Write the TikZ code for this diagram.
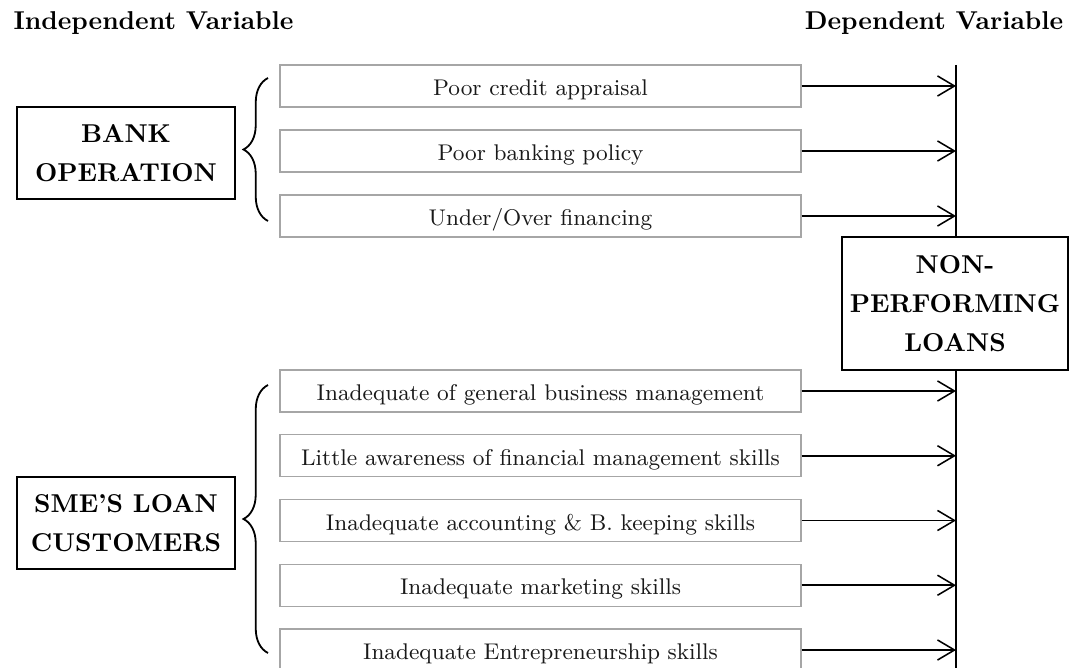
\documentclass[tikz,border=0pt]{standalone}
\usetikzlibrary{arrows.meta,decorations.pathreplacing}
\begin{document}
\begin{tikzpicture}[x=0.3876pt,y=-0.3876pt,
  headtext/.style={font=\bfseries\fontsize{10}{12}\selectfont,anchor=base,inner sep=0pt},
  groupbox/.style={draw=black,line width=0.5pt,fill=white,align=center,
    font=\bfseries\fontsize{10}{15.2}\selectfont,inner sep=0pt},
  itembox/.style={draw=black!35,line width=0.5pt,minimum width=201.9pt,minimum height=16.2pt,
    inner sep=0pt,text height=8.5pt,text depth=1pt,font=\fontsize{8.8}{10}\selectfont,text=black!90},
  arr/.style={line width=0.6pt,-{Straight Barb[length=6.6pt,width=7.8pt,line width=0.6pt]}},
  brc/.style={line width=0.7pt,decorate,decoration={brace,amplitude=9.5pt}}]
\useasboundingbox (0,0) rectangle (1069,668);

% headings
\node[headtext] (hind) at (153.5,30) {Independent Variable};
\node[headtext] (hdep) at (934,30) {Dependent Variable};

% group boxes
\node[groupbox,minimum width=84.5pt,minimum height=35.7pt] (bank) at (126,153) {BANK\\OPERATION};
\node[groupbox,minimum width=84.5pt,minimum height=35.7pt] (sme) at (126,523) {SME’S LOAN\\CUSTOMERS};

% dependent axis
\coordinate (vtop) at (956,65);
\coordinate (vbot) at (956,668);
\draw[line width=1.1pt] (vtop) -- (vbot);
\node[groupbox,minimum width=87.6pt,minimum height=51.6pt] (npl) at (955,303.5) {NON-\\PERFORMING\\LOANS};

% item boxes
\node[itembox] (b1) at (540.5,86) {Poor credit appraisal};
\node[itembox] (b2) at (540.5,151) {Poor banking policy};
\node[itembox] (b3) at (540.5,216) {Under/Over financing};
\node[itembox] (s1) at (540.5,391) {Inadequate of general business management};
\node[itembox] (s2) at (540.5,455.75) {Little awareness of financial management skills};
\node[itembox] (s3) at (540.5,520.5) {Inadequate accounting \& B. keeping skills};
\node[itembox] (s4) at (540.5,585.25) {Inadequate marketing skills};
\node[itembox] (s5) at (540.5,650) {Inadequate Entrepreneurship skills};

% arrows
\foreach \n in {b1,b2,b3,s1,s2,s3,s4,s5}{
  \draw[arr] (\n.east) -- (vtop |- \n.east);
}

% braces
\coordinate (bb1) at (268,221);
\coordinate (bb2) at (268,78);
\draw[brc] (bb1) -- (bb2);
\coordinate (sb1) at (268,653);
\coordinate (sb2) at (268,385);
\draw[brc] (sb1) -- (sb2);
\end{tikzpicture}
\end{document}
